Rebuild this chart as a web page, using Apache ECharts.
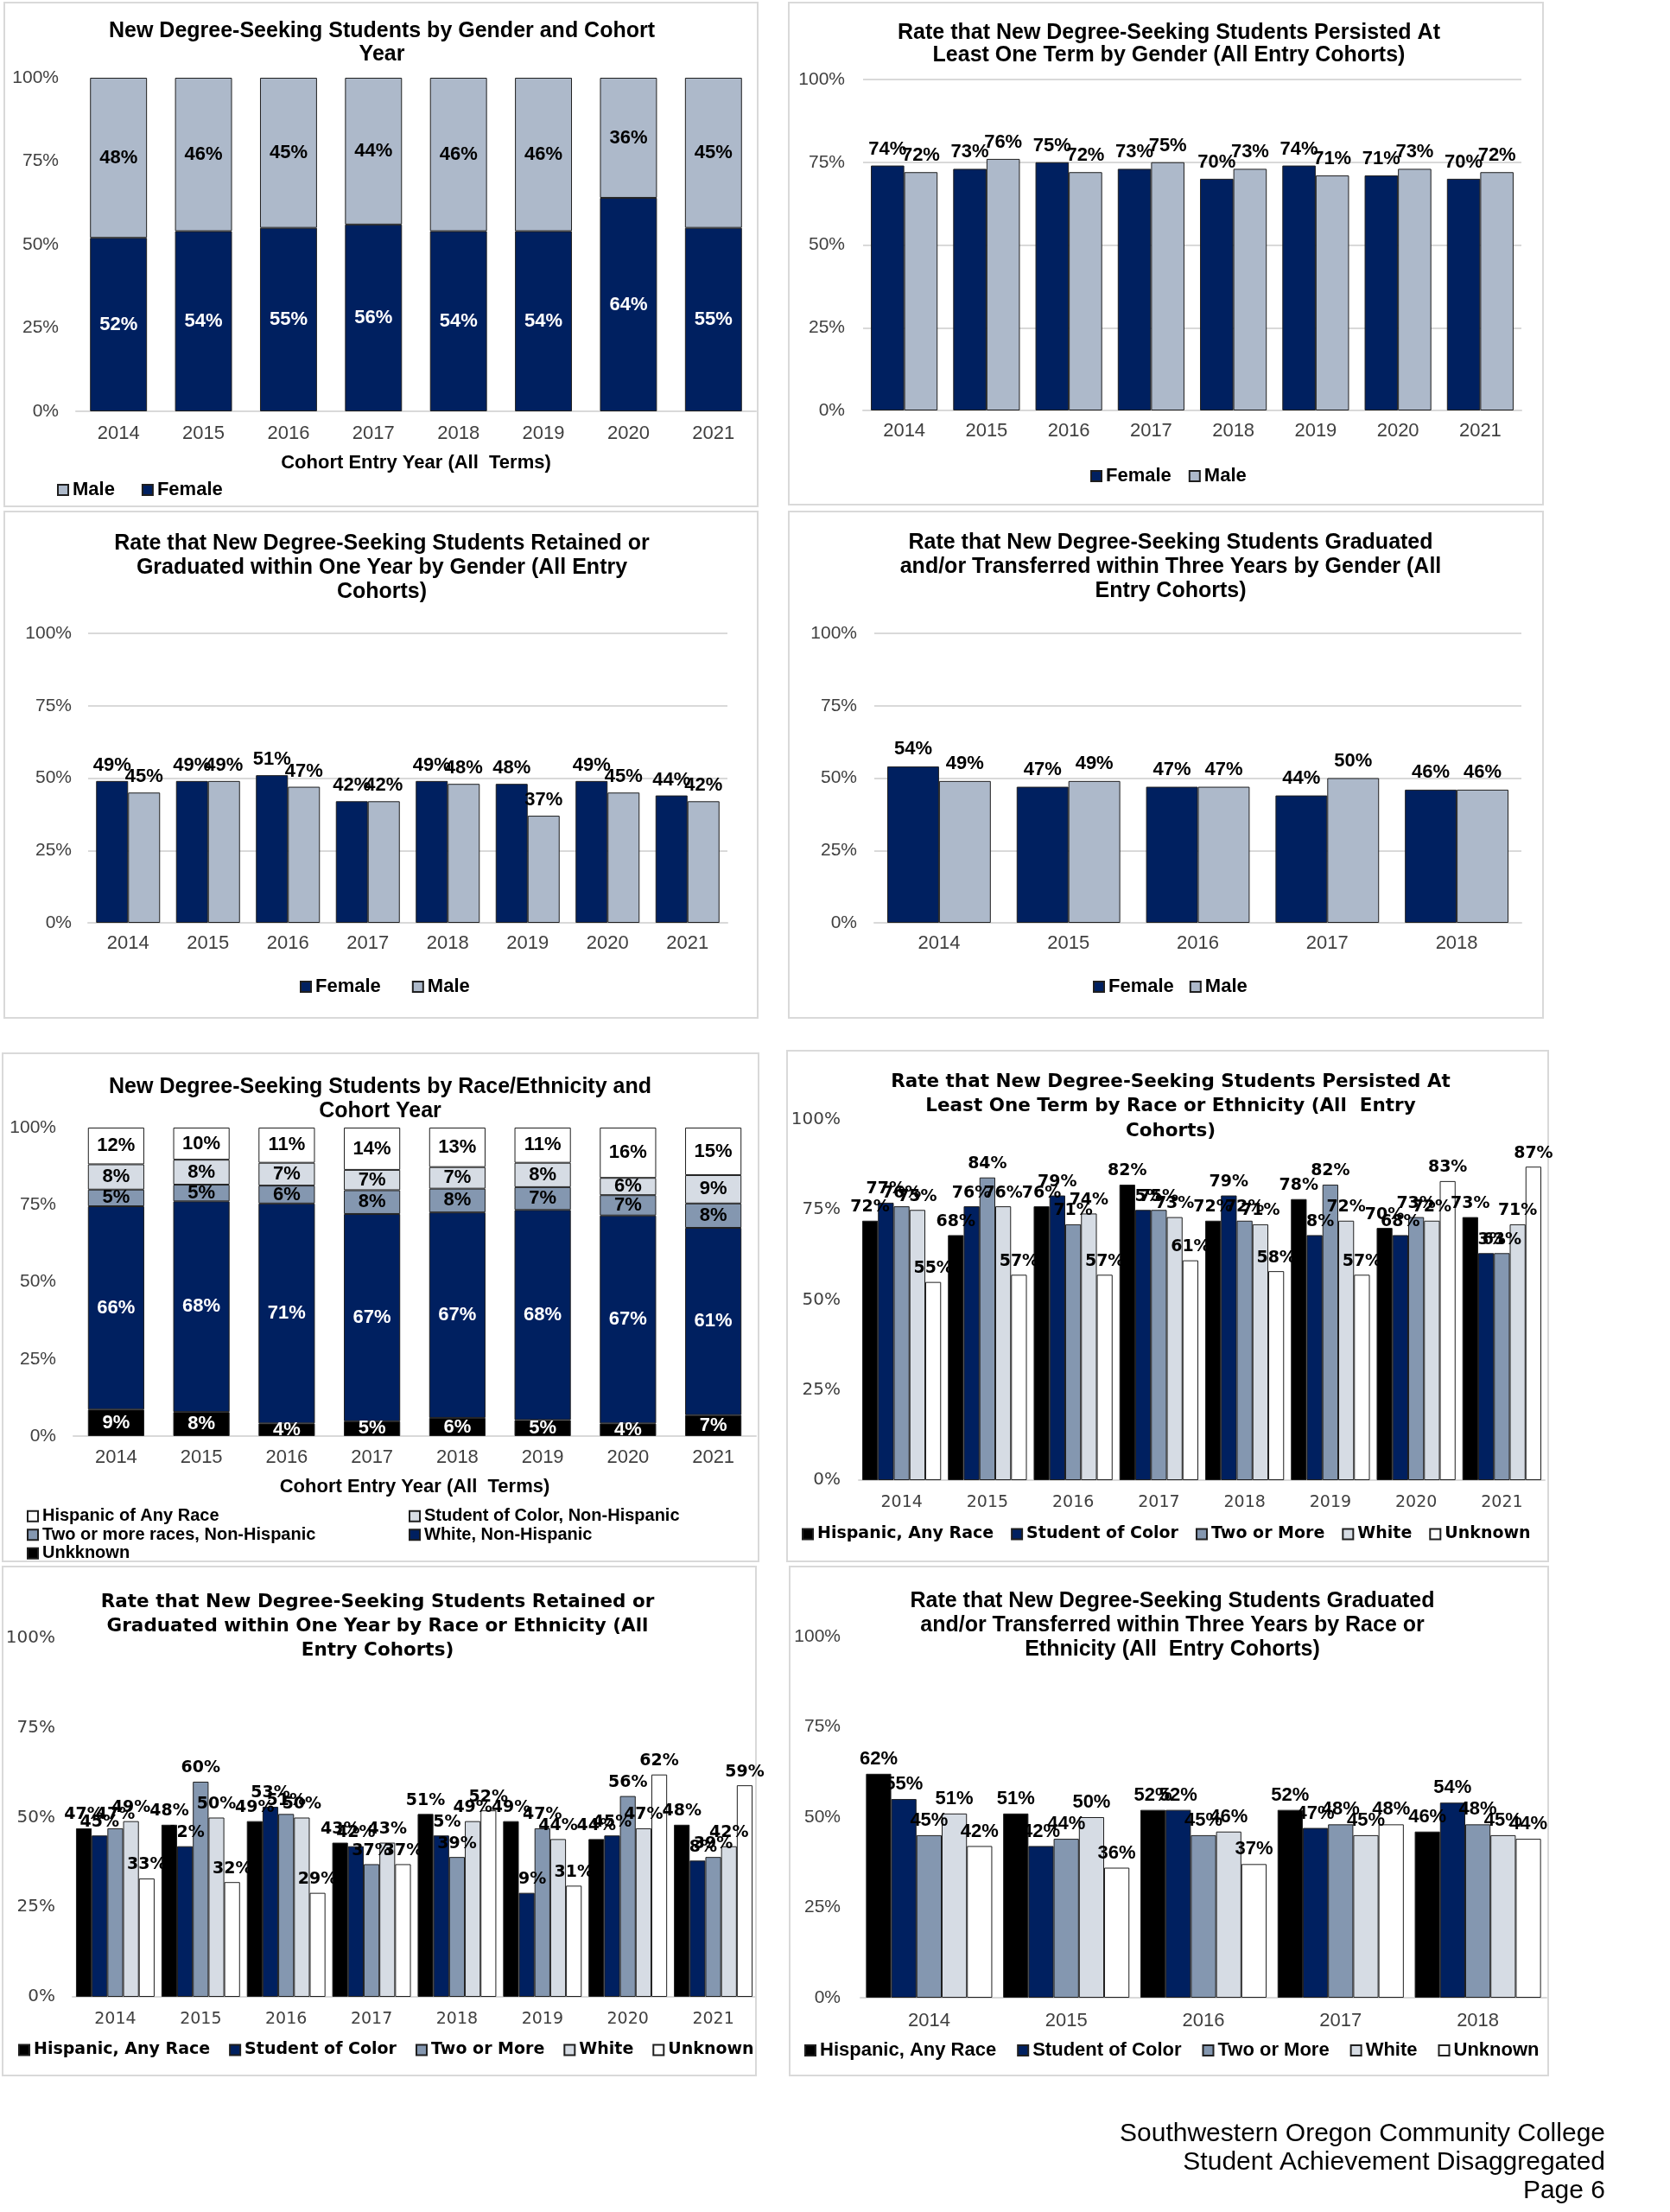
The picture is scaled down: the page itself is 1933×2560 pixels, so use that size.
<!DOCTYPE html>
<html><head><meta charset="utf-8">
<script src="https://cdn.jsdelivr.net/npm/echarts@6/dist/echarts.min.js"></script>
<style>html,body{margin:0;padding:0;background:#fff}#main{width:1933px;height:2560px}</style>
</head><body><div id="main"></div>
<script>
// ---------- DATA ----------
const years8 = ['2014','2015','2016','2017','2018','2019','2020','2021'];
const years5 = ['2014','2015','2016','2017','2018'];

// Chart 1: composition by gender
const compFemale = [52,54,55,56,54,54,64,55];
const compMale   = [48,46,45,44,46,46,36,45];
// Chart 2: persisted at least one term by gender
const persistFemale = [74,73,75,73,70,74,71,70];
const persistMale   = [72,76,72,75,73,71,73,72];
// Chart 3: retained or graduated within one year by gender
const retainFemale = [49,49,51,42,49,48,49,44];
const retainMale   = [45,49,47,42,48,37,45,42];
// Chart 4: graduated/transferred within three years by gender
const gradFemale = [54,47,47,44,46];
const gradMale   = [49,49,47,50,46];
// Chart 5: composition by race/ethnicity
const compUnknown  = [8.6,7.8,4.1,4.8,5.9,5.2,4.1,6.8];
const compWhiteNH  = [65.9,68.3,71.3,67.2,66.6,68.1,67.4,60.7];
const compTwoMore  = [5.4,5.4,5.8,7.7,7.7,7.4,6.6,7.9];
const compColorNH  = [8.2,8.1,7.4,6.6,7.0,7.9,5.6,9.2];
const compHispanic = [11.9,10.4,11.4,13.7,12.8,11.4,16.3,15.4];
// Chart 6: persisted by race/ethnicity
const persistHisp  = [72,68,76,82,72,78,70,73];
const persistColor = [77,76,79,75,79,68,68,63];
const persistTwo   = [76,84,71,75,72,82,73,63];
const persistWhite = [75,76,74,73,71,72,72,71];
const persistUnk   = [55,57,57,61,58,57,83,87];
// Chart 7: retained/graduated one year by race/ethnicity
const retainHisp  = [47,48,49,43,51,49,44,48];
const retainColor = [45,42,53,42,45,29,45,38];
const retainTwo   = [47,60,51,37,39,47,56,39];
const retainWhite = [49,50,50,43,49,44,47,42];
const retainUnk   = [33,32,29,37,52,31,62,59];
// Chart 8: graduated/transferred three years by race/ethnicity
const gradHisp  = [62,51,52,52,46];
const gradColor = [55,42,52,47,54];
const gradTwo   = [45,44,45,48,48];
const gradWhite = [51,50,46,45,45];
const gradUnk   = [42,36,37,48,44];

// ---------- STYLE ----------
const NAVY='#002060', MALEC='#ADB9CA', TWOC='#8497B0', LIGHT='#D6DCE4', BLK='#000000', WHT='#FFFFFF';
const ARIAL='"Liberation Sans", Arial, sans-serif';
const VERD='"DejaVu Sans", Verdana, sans-serif';

const opt = {animation:false, backgroundColor:'#fff', title:[], legend:[], grid:[], xAxis:[], yAxis:[], series:[], graphic:{elements:[]}};

function addChart(c){
  const i = opt.grid.length;
  opt.grid.push({left:c.g[0], top:c.g[1], width:c.g[2], height:c.g[3], outerBoundsMode:'none', containLabel:false});
  opt.xAxis.push({type:'category', gridIndex:i, data:c.cats, axisTick:{show:false},
    axisLine:{show:true, lineStyle:{color:'#D9D9D9', width:2}},
    axisLabel:{color:'#404040', fontFamily:c.font, fontSize:c.xfs, margin:c.xm, interval:0},
    name:c.xname||'', nameLocation:'middle', nameGap:c.ngap||0,
    nameTextStyle:{color:'#000', fontFamily:c.font, fontSize:22, fontWeight:'bold'}});
  opt.yAxis.push({type:'value', gridIndex:i, min:0, max:100, interval:25,
    axisLine:{show:false}, axisTick:{show:false},
    axisLabel:{formatter:'{value}%', color:'#404040', fontFamily:c.font, fontSize:c.yfs, margin:c.ym},
    splitLine:{show:!!c.split, lineStyle:{color:'#D9D9D9', width:2}}});
  c.series.forEach(s=>{
    const ser = {type:'bar', name:s.name, xAxisIndex:i, yAxisIndex:i, data:s.data,
      barCategoryGap:c.gap, barGap:'0%',
      itemStyle:{color:s.color, borderColor:'#1F1F1F', borderWidth:1},
      label:{show:true, position:c.stack?'inside':'top', distance:c.ldist||6,
        formatter:p=>Math.round(p.value)+'%',
        color:s.lc||'#000', fontFamily:c.font, fontWeight:'bold', fontSize:c.lfs}};
    if (c.stack) ser.stack = 'st'+i;
    opt.series.push(ser);
  });
  opt.title.push({text:c.title, left:c.tx, top:c.ty, textAlign:'center', padding:0,
    textStyle:{fontFamily:c.font, fontWeight:'bold', fontSize:c.tfs, lineHeight:c.tlh, color:'#000'}});
  c.legends.forEach(l=>opt.legend.push({data:l.data, left:l.x, top:l.y, orient:l.orient||'horizontal', padding:0,
    itemWidth:12, itemHeight:12, itemGap:l.gap, icon:'rect', selectedMode:false,
    textStyle:{fontFamily:c.font, fontWeight:'bold', fontSize:l.fs, color:'#000', lineHeight:l.lh||l.fs}}));
  opt.graphic.elements.push({type:'rect', silent:true, z:-10,
    shape:{x:c.p[0], y:c.p[1], width:c.p[2], height:c.p[3]},
    style:{fill:'none', stroke:'#D9D9D9', lineWidth:2}});
}

// Chart 1
addChart({p:[5,3,872,583], g:[88,90,787,386], cats:years8, font:ARIAL, xfs:22, yfs:21, xm:15, ym:20, lfs:22,
  gap:'33%', stack:true, split:false, xname:'Cohort Entry Year (All  Terms)', ngap:49,
  title:'New Degree-Seeking Students by Gender and Cohort\nYear', tx:442, ty:22, tfs:25, tlh:27.5,
  series:[{name:'Female', data:compFemale, color:NAVY, lc:'#fff'},{name:'Male', data:compMale, color:MALEC}],
  legends:[{data:['Male','Female'], x:66, y:556, gap:31, fs:22}]});
// Chart 2
addChart({p:[913,3,873,581], g:[999,92,762,383], cats:years8, font:ARIAL, xfs:22, yfs:21, xm:13, ym:21, lfs:22,
  gap:'19%', split:true, ldist:8,
  title:'Rate that New Degree-Seeking Students Persisted At\nLeast One Term by Gender (All Entry Cohorts)', tx:1353, ty:24.5, tfs:25, tlh:26.5,
  series:[{name:'Female', data:persistFemale, color:NAVY},{name:'Male', data:persistMale, color:MALEC}],
  legends:[{data:['Female','Male'], x:1262, y:540, gap:20, fs:22}]});
// Chart 3
addChart({p:[5,592,872,586], g:[102,733,740,335], cats:years8, font:ARIAL, xfs:22, yfs:21, xm:13, ym:19, lfs:22,
  gap:'20%', split:true, ldist:7,
  title:'Rate that New Degree-Seeking Students Retained or\nGraduated within One Year by Gender (All Entry\nCohorts)', tx:442, ty:615.5, tfs:25, tlh:28,
  series:[{name:'Female', data:retainFemale, color:NAVY},{name:'Male', data:retainMale, color:MALEC}],
  legends:[{data:['Female','Male'], x:347, y:1131, gap:36, fs:22}]});
// Chart 4
addChart({p:[913,592,873,586], g:[1012,733,749,335], cats:years5, font:ARIAL, xfs:22, yfs:21, xm:13, ym:20, lfs:22,
  gap:'20%', split:true, ldist:9,
  title:'Rate that New Degree-Seeking Students Graduated\nand/or Transferred within Three Years by Gender (All\nEntry Cohorts)', tx:1355, ty:613.5, tfs:25, tlh:28.3,
  series:[{name:'Female', data:gradFemale, color:NAVY},{name:'Male', data:gradMale, color:MALEC}],
  legends:[{data:['Female','Male'], x:1265, y:1131, gap:18, fs:22}]});
// Chart 5
addChart({p:[3,1219,875,588], g:[85,1305,790,357], cats:years8, font:ARIAL, xfs:22, yfs:21, xm:14, ym:20, lfs:22,
  gap:'34%', stack:true, split:false, xname:'Cohort Entry Year (All  Terms)', ngap:48,
  title:'New Degree-Seeking Students by Race/Ethnicity and\nCohort Year', tx:440, ty:1244, tfs:25, tlh:28,
  series:[{name:'Unkknown', data:compUnknown, color:BLK, lc:'#fff'},
          {name:'White, Non-Hispanic', data:compWhiteNH, color:NAVY, lc:'#fff'},
          {name:'Two or more races, Non-Hispanic', data:compTwoMore, color:TWOC},
          {name:'Student of Color, Non-Hispanic', data:compColorNH, color:LIGHT},
          {name:'Hispanic of Any Race', data:compHispanic, color:WHT}],
  legends:[{data:['Hispanic of Any Race','Two or more races, Non-Hispanic','Unkknown'], x:31, y:1744, orient:'vertical', gap:0, fs:20, lh:21.5},
           {data:['Student of Color, Non-Hispanic','White, Non-Hispanic'], x:473, y:1744, orient:'vertical', gap:0, fs:20, lh:21.5}]});
// Chart 6
const raceNames = ['Hispanic, Any Race','Student of Color','Two or More','White','Unknown'];
const raceColors = [BLK, NAVY, TWOC, LIGHT, WHT];
addChart({p:[911,1216,881,591], g:[994,1296,794,417], cats:years8, font:VERD, xfs:19, yfs:20, xm:17, ym:21, lfs:19,
  gap:'8%', split:false, ldist:6,
  title:'Rate that New Degree-Seeking Students Persisted At\nLeast One Term by Race or Ethnicity (All  Entry\nCohorts)', tx:1355, ty:1238, tfs:21.5, tlh:28.5,
  series:[persistHisp,persistColor,persistTwo,persistWhite,persistUnk].map((d,k)=>({name:raceNames[k], data:d, color:raceColors[k]})),
  legends:[{data:raceNames, x:928, y:1766, gap:20, fs:19}]});
// Chart 7
addChart({p:[3,1813,872,589], g:[84,1896,791,415], cats:years8, font:VERD, xfs:19, yfs:20, xm:17, ym:20, lfs:19,
  gap:'8%', split:false, ldist:6,
  title:'Rate that New Degree-Seeking Students Retained or\nGraduated within One Year by Race or Ethnicity (All\nEntry Cohorts)', tx:437, ty:1840, tfs:21.5, tlh:28,
  series:[retainHisp,retainColor,retainTwo,retainWhite,retainUnk].map((d,k)=>({name:raceNames[k], data:d, color:raceColors[k]})),
  legends:[{data:raceNames, x:21, y:2363, gap:22, fs:19}]});
// Chart 8
addChart({p:[914,1813,878,589], g:[996,1894,794,418], cats:years5, font:ARIAL, xfs:22, yfs:21, xm:16, ym:23, lfs:22,
  gap:'8%', split:false, ldist:6,
  title:'Rate that New Degree-Seeking Students Graduated\nand/or Transferred within Three Years by Race or\nEthnicity (All  Entry Cohorts)', tx:1357, ty:1839, tfs:25, tlh:28,
  series:[gradHisp,gradColor,gradTwo,gradWhite,gradUnk].map((d,k)=>({name:raceNames[k], data:d, color:raceColors[k]})),
  legends:[{data:raceNames, x:931, y:2362, gap:24, fs:22}]});

// Footer
const footer = ['Southwestern Oregon Community College','Student Achievement Disaggregated','Page 6'];
const footerY = [2470, 2503, 2536];
footer.forEach((t,k)=>opt.graphic.elements.push({type:'text', x:1858, y:footerY[k], silent:true,
  style:{text:t, fontFamily:ARIAL, fontSize:30, fill:'#000', align:'right', textAlign:'right', verticalAlign:'middle', textVerticalAlign:'middle'}}));

const chart = echarts.init(document.getElementById('main'));
chart.setOption(opt);
</script></body></html>
